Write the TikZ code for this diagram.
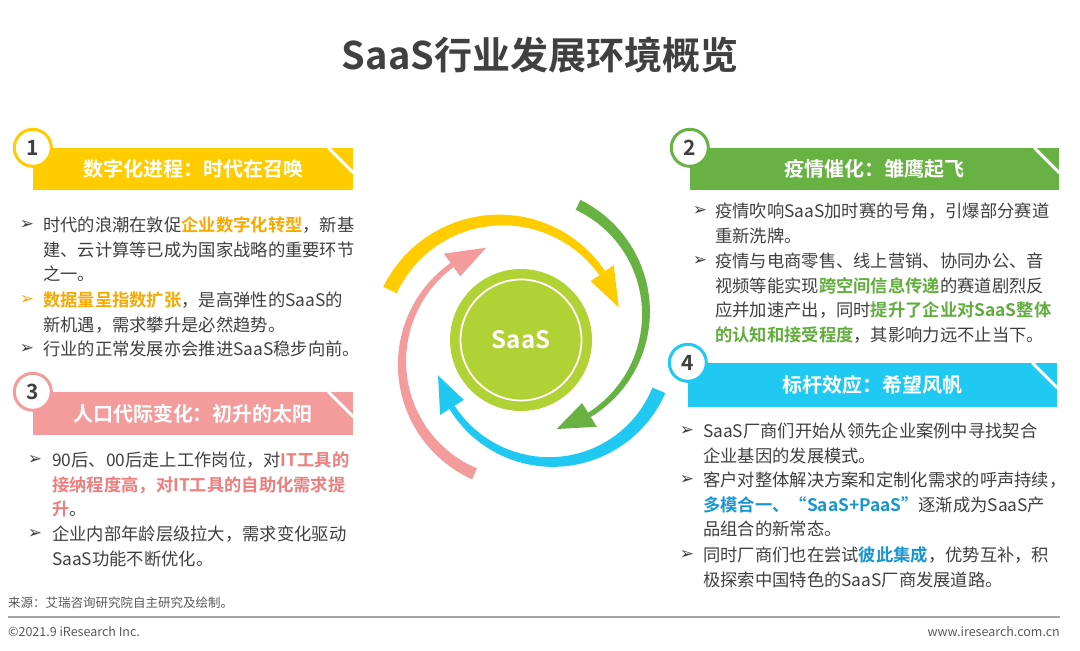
\documentclass[tikz,border=0pt]{standalone}
\usepackage{fontspec}
\setmainfont{Noto Sans CJK SC}[BoldFont={Noto Sans CJK SC Bold}]
\newfontfamily\symfont{DejaVu Sans}
\usepackage{xcolor}
\usetikzlibrary{positioning}
\definecolor{cinzaTexto}{HTML}{404040}
\definecolor{cinzaRodape}{HTML}{595959}
\definecolor{amarelo}{HTML}{FFCC00}
\definecolor{verde}{HTML}{68B244}
\definecolor{rosa}{HTML}{F49C9C}
\definecolor{azul}{HTML}{1FC9F2}
\definecolor{lima}{HTML}{B1D235}
\definecolor{destLaranja}{HTML}{F8A900}
\definecolor{destVerde}{HTML}{62AD3E}
\definecolor{destRosa}{HTML}{EE7D7D}
\definecolor{destAzul}{HTML}{1996D2}
\newcommand{\destY}[1]{\textbf{\textcolor{destLaranja}{#1}}}
\newcommand{\destG}[1]{\textbf{\textcolor{destVerde}{#1}}}
\newcommand{\destP}[1]{\textbf{\textcolor{destRosa}{#1}}}
\newcommand{\destB}[1]{\textbf{\textcolor{destAzul}{#1}}}
% seta curva afinada: cor, cx, cy, raio, inicio, base da ponta, ponta, largura inicial, largura final
\newcommand{\espiral}[9]{%
  \fill[#1] plot[domain=#5:#6, samples=60] ({#2+(#4+(#8+(#9-#8)*(\x-(#5))/(#6-(#5)))/2)*cos(\x)}, {#3+(#4+(#8+(#9-#8)*(\x-(#5))/(#6-(#5)))/2)*sin(\x)})
    -- plot[domain=#6:#5, samples=60] ({#2+(#4-(#8+(#9-#8)*(\x-(#5))/(#6-(#5)))/2)*cos(\x)}, {#3+(#4-(#8+(#9-#8)*(\x-(#5))/(#6-(#5)))/2)*sin(\x)}) -- cycle;
  \fill[#1] ({#2+(#4+14)*cos(#6)}, {#3+(#4+14)*sin(#6)}) -- ({#2+#4*cos(#7)}, {#3+#4*sin(#7)}) -- ({#2+(#4-14)*cos(#6)}, {#3+(#4-14)*sin(#6)}) -- cycle;
}
\tikzset{
    titulo/.style={inner sep=0pt, text=cinzaTexto, font=\fontsize{38}{40}\selectfont\bfseries},
    faixa/.style={
        rectangle,
        inner sep=0pt,
        text=white,
        minimum height=42pt,
        font=\fontsize{20}{22}\selectfont\bfseries
    },
    numero/.style={
        circle,
        fill=white,
        line width=3pt,
        minimum size=37pt,
        inner sep=0pt,
        text=cinzaTexto,
        font=\fontsize{21}{22}\selectfont\bfseries
    },
    corte/.style={white, line width=3pt},
    corpo/.style={
        anchor=north west,
        inner sep=0pt,
        text width=370pt,
        align=left,
        text=cinzaTexto,
        font=\fontsize{17.3}{24.5}\selectfont,
        execute at begin node={\noindent\strut}
    },
    marca/.style={inner sep=0pt, text=cinzaTexto, font=\symfont\fontsize{17}{17}\selectfont},
    rodape/.style={inner sep=0pt, text=cinzaRodape, font=\fontsize{12.5}{14}\selectfont}
}

\begin{document}
\begin{tikzpicture}[x=1pt, y=-1pt]
    \useasboundingbox (0,0) rectangle (1080,651);
    \fill[white] (0,0) rectangle (1080,651);

    \node[titulo] (titulo) at (540,55) {SaaS行业发展环境概览};

    % faixas de titulo
    \node[faixa, fill=amarelo, minimum width=320pt] (f1) at (193,169) {数字化进程：时代在召唤};
    \node[faixa, fill=verde, minimum width=369pt] (f2) at (874.5,169) {疫情催化：雏鹰起飞};
    \node[faixa, fill=rosa, minimum width=320pt, minimum height=43pt] (f3) at (193,413.5) {人口代际变化：初升的太阳};
    \node[faixa, fill=azul, minimum width=369pt, minimum height=44pt] (f4) at (872.5,385) {标杆效应：希望风帆};
    \draw[corte] ([xshift=-25pt]f1.north east) -- ([yshift=-25pt]f1.north east);
    \draw[corte] ([xshift=-25pt]f2.north east) -- ([yshift=-25pt]f2.north east);
    \draw[corte] ([xshift=-25pt]f3.north east) -- ([yshift=-25pt]f3.north east);
    \draw[corte] ([xshift=-25pt]f4.north east) -- ([yshift=-25pt]f4.north east);
    \node[numero, draw=amarelo] (n1) at (f1.north west) {1};
    \node[numero, draw=verde] (n2) at (f2.north west) {2};
    \node[numero, draw=rosa] (n3) at (f3.north west) {3};
    \node[numero, draw=azul] (n4) at (f4.north west) {4};

    % bloco 1
    \node[marca] (m11) at (27,225) {➢};
    \node[corpo] (t11) at (43,214.2) {时代的浪潮在敦促\destY{企业数字化转型}，新基\\建、云计算等已成为国家战略的重要环节\\之一。};
    \node[marca, text=destLaranja] (m12) at (27,300) {➢};
    \node[corpo] (t12) at (43,289.2) {\destY{数据量呈指数扩张}，是高弹性的SaaS的\\新机遇，需求攀升是必然趋势。};
    \node[marca] (m13) at (27,349) {➢};
    \node[corpo] (t13) at (43,338.2) {行业的正常发展亦会推进SaaS稳步向前。};

    % bloco 2
    \node[marca] (m21) at (700,211) {➢};
    \node[corpo] (t21) at (715,200.2) {疫情吹响SaaS加时赛的号角，引爆部分赛道\\重新洗牌。};
    \node[marca] (m22) at (700,261) {➢};
    \node[corpo] (t22) at (715,250.2) {疫情与电商零售、线上营销、协同办公、音\\视频等能实现\destG{跨空间信息传递}的赛道剧烈反\\应并加速产出，同时\destG{提升了企业对SaaS整体}\\\destG{的认知和接受程度}，其影响力远不止当下。};

    % bloco 3
    \node[marca] (m31) at (35,460) {➢};
    \node[corpo] (t31) at (52,449.2) {90后、00后走上工作岗位，对\destP{IT工具的}\\\destP{接纳程度高，对IT工具的自助化需求提}\\\destP{升}。};
    \node[marca] (m32) at (35,534) {➢};
    \node[corpo] (t32) at (52,523.2) {企业内部年龄层级拉大，需求变化驱动\\SaaS功能不断优化。};

    % bloco 4
    \node[marca] (m41) at (687,431) {➢};
    \node[corpo] (t41) at (703,420.2) {SaaS厂商们开始从领先企业案例中寻找契合\\企业基因的发展模式。};
    \node[marca] (m42) at (687,480) {➢};
    \node[corpo] (t42) at (703,469.2) {客户对整体解决方案和定制化需求的呼声持续，\\\destB{多模合一、“SaaS+PaaS”}逐渐成为SaaS产\\品组合的新常态。};
    \node[marca] (m43) at (687,555) {➢};
    \node[corpo] (t43) at (703,544.2) {同时厂商们也在尝试\destB{彼此集成}，优势互补，积\\极探索中国特色的SaaS厂商发展道路。};

    % ciclo central
    \espiral{amarelo}{501}{343}{123}{205.5}{325.4}{343.2}{15}{7}
    \espiral{verde}{526}{313}{120}{-64.3}{58.1}{75.2}{11}{5}
    \espiral{azul}{551}{345}{117}{22.8}{147.8}{164.9}{14}{6}
    \espiral{rosa}{523}{363}{121}{113.6}{234.1}{252.3}{12}{5}
    \node[circle, fill=lima, minimum size=142pt, inner sep=0pt, text=white, font=\fontsize{24}{26}\selectfont\bfseries] (saas) at (521,340) {SaaS};
    \draw[white, line width=1.8pt] (saas.center) circle (60.5);

    % rodape
    \node[rodape, anchor=west] (fonte) at (8,603) {来源：艾瑞咨询研究院自主研究及绘制。};
    \draw[cinzaRodape!55, line width=1.5pt] (8,617) -- (1060,617);
    \node[rodape, anchor=west] (copy) at (8,632) {©2021.9 iResearch Inc.};
    \node[rodape, anchor=east] (site) at (1060,632) {www.iresearch.com.cn};
\end{tikzpicture}
\end{document}
